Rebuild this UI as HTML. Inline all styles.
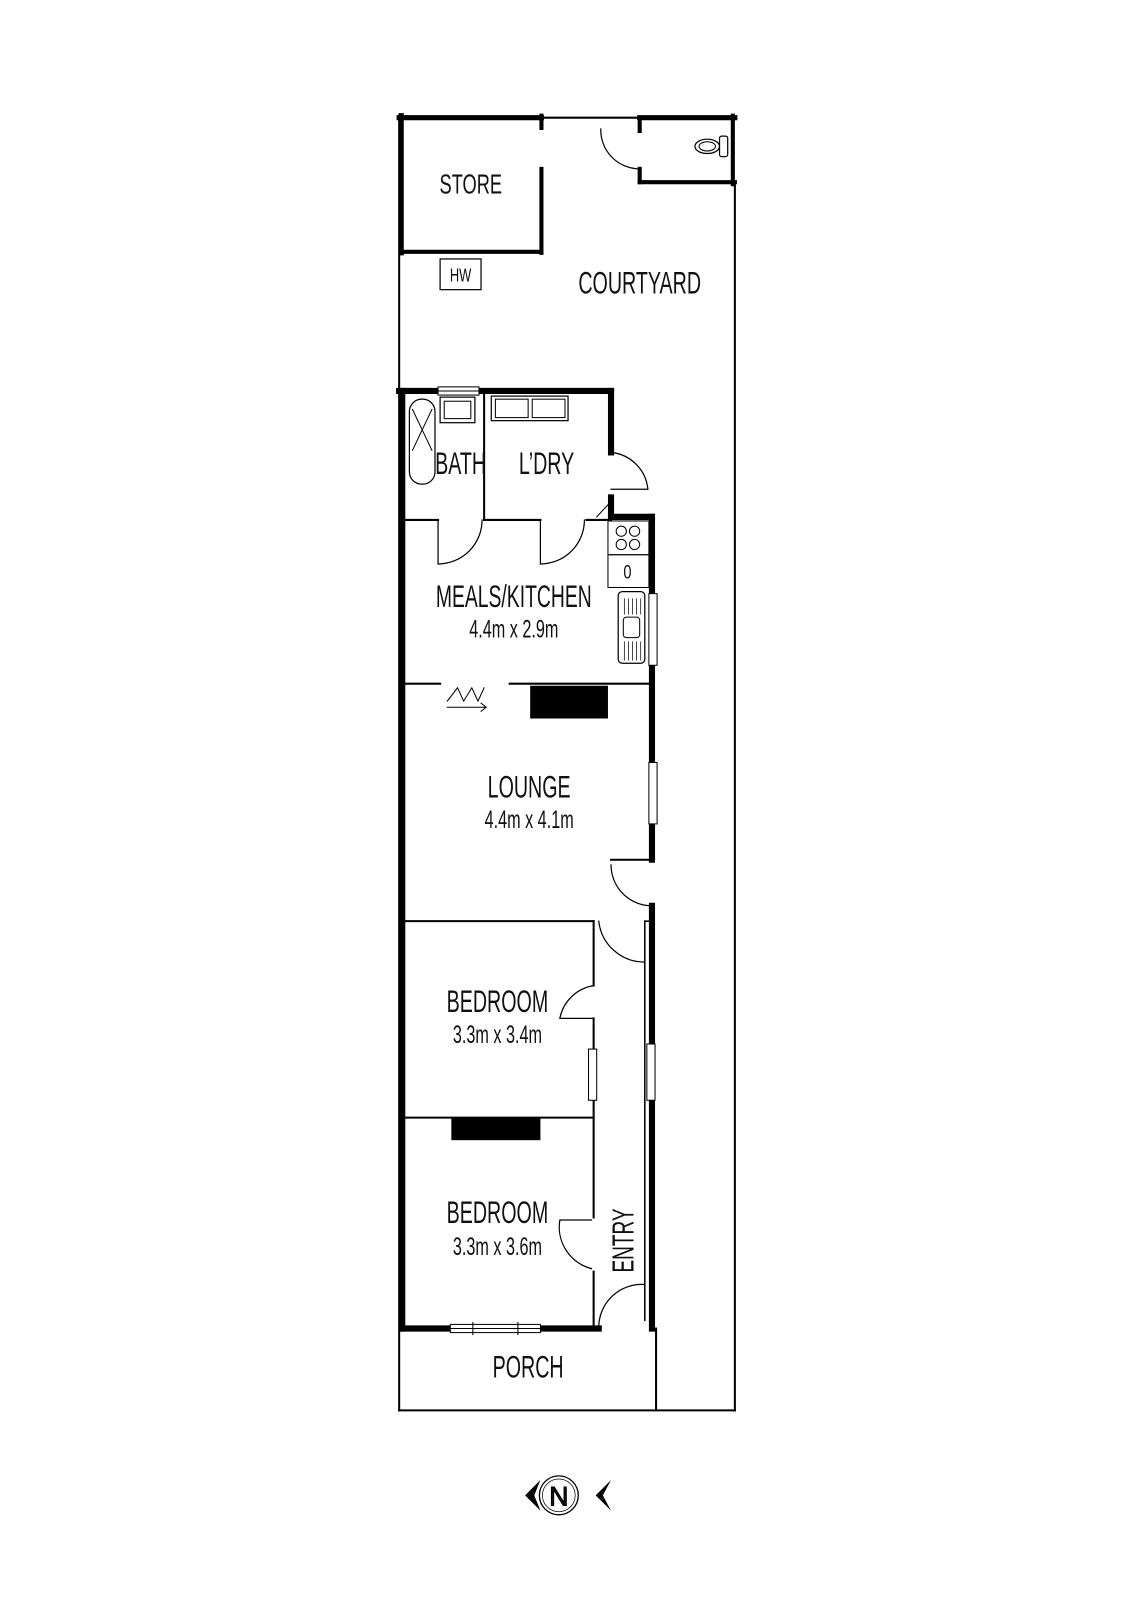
<!DOCTYPE html>
<html><head><meta charset="utf-8"><style>
html,body{margin:0;padding:0;background:#fff;width:1131px;height:1600px;overflow:hidden}
text{font-family:"Liberation Sans Narrow","Liberation Sans",sans-serif;fill:#111}
</style></head><body>
<svg width="1131" height="1600" viewBox="0 0 1131 1600" xmlns="http://www.w3.org/2000/svg">
<g transform="scale(1.0235)">
<g fill="none" stroke="#000" stroke-linecap="square">
<line x1="390" y1="113" x2="390" y2="1378" stroke-width="2"/>
<line x1="718" y1="178" x2="718" y2="1378" stroke-width="2"/>
<line x1="390" y1="1378" x2="718" y2="1378" stroke-width="2"/>
<line x1="390" y1="115" x2="529" y2="115" stroke-width="5"/>
<line x1="529" y1="115" x2="625" y2="115" stroke-width="2"/>
<line x1="625" y1="115" x2="718" y2="115" stroke-width="5"/>
<line x1="392" y1="113" x2="392" y2="247" stroke-width="5"/>
<line x1="529" y1="113" x2="529" y2="125" stroke-width="4"/>
<line x1="529" y1="165" x2="529" y2="247" stroke-width="4"/>
<line x1="392" y1="246" x2="529" y2="246" stroke-width="4"/>
<line x1="625" y1="115" x2="625" y2="128" stroke-width="4"/>
<line x1="625" y1="165" x2="625" y2="178" stroke-width="4"/>
<line x1="625" y1="178" x2="718" y2="178" stroke-width="4"/>
<line x1="716" y1="113" x2="716" y2="180" stroke-width="4"/>
<path d="M587 126 A38 38 0 0 0 625 165" stroke-width="1.2"/>
<rect x="703" y="133" width="8" height="20" rx="2" stroke-width="1.2"/>
<ellipse cx="691" cy="143" rx="12" ry="7" stroke-width="1.2"/>
<ellipse cx="691" cy="143" rx="8" ry="4.5" stroke-width="1"/>
<rect x="430" y="253" width="40" height="30" stroke-width="1.2"/>
<line x1="393" y1="382" x2="393" y2="1298" stroke-width="6"/>
<line x1="390" y1="382" x2="597" y2="382" stroke-width="6"/>
<line x1="597" y1="382" x2="597" y2="442" stroke-width="6"/>
<line x1="597" y1="486" x2="597" y2="505" stroke-width="6"/>
<line x1="597" y1="505" x2="637" y2="505" stroke-width="6"/>
<line x1="637" y1="505" x2="637" y2="840" stroke-width="6"/>
<line x1="597" y1="840" x2="637" y2="840" stroke-width="2"/>
<path d="M597 442 A40 40 0 0 1 633 478 L597 478" stroke-width="1.2"/>
<path d="M583 505 L597 490" stroke-width="1"/>
<rect x="428" y="378" width="40" height="8" fill="#fff" stroke-width="1"/>
<line x1="428" y1="382" x2="468" y2="382" stroke-width="1"/>
<line x1="473" y1="382" x2="473" y2="508" stroke-width="2"/>
<rect x="400" y="390" width="25" height="83" rx="12" stroke-width="1.2"/>
<path d="M403 400 L422 440 M422 400 L403 440" stroke-width="1"/>
<rect x="430" y="388" width="34" height="25" stroke-width="1.2"/>
<rect x="434" y="392" width="26" height="17" stroke-width="1"/>
<rect x="480" y="387" width="75" height="24" stroke-width="1.2"/>
<rect x="484" y="390" width="32" height="18" stroke-width="1"/>
<rect x="520" y="390" width="32" height="18" stroke-width="1"/>
<line x1="393" y1="508" x2="428" y2="508" stroke-width="2"/>
<line x1="473" y1="508" x2="528" y2="508" stroke-width="2"/>
<line x1="573" y1="508" x2="597" y2="508" stroke-width="2"/>
<path d="M428 508 L428 551 A43 43 0 0 0 471 508" stroke-width="1.2"/>
<path d="M528 508 L528 551 A43 43 0 0 0 571 508" stroke-width="1.2"/>
<rect x="594" y="509" width="40" height="33" stroke-width="1"/>
<circle cx="607" cy="519" r="5" stroke-width="1"/><circle cx="620" cy="519" r="5" stroke-width="1"/>
<circle cx="607" cy="532" r="5" stroke-width="1"/><circle cx="620" cy="532" r="5" stroke-width="1"/>
<rect x="594" y="542" width="40" height="32" stroke-width="1"/>
<rect x="604" y="578" width="26" height="70" rx="4" stroke-width="1.2"/>
<rect x="609" y="603" width="16" height="20" rx="3" stroke-width="1"/>
<path d="M610 585 V600 M614 585 V600 M618 585 V600 M622 585 V600 M626 585 V600 M610 627 V645 M614 627 V645 M618 627 V645 M622 627 V645 M626 627 V645" stroke-width="0.7"/>
<rect x="634" y="580" width="8" height="70" fill="#fff" stroke-width="1"/>
<rect x="634" y="745" width="8" height="60" fill="#fff" stroke-width="1"/>
<line x1="393" y1="668" x2="430" y2="668" stroke-width="2"/>
<line x1="498" y1="668" x2="637" y2="668" stroke-width="2"/>
<path d="M437 685 L447 672 L453 685 L461 672 L467 685 L473 672" stroke-width="1"/>
<path d="M437 691 L475 691 M470 687 L475 691 L470 695" stroke-width="1"/>
<rect x="518" y="670" width="76" height="32" fill="#000" stroke="none"/>
<path d="M597 845 A40 40 0 0 0 637 885" stroke-width="1.2"/>
<line x1="637" y1="885" x2="637" y2="1298" stroke-width="6"/>
<line x1="630" y1="900" x2="630" y2="1290" stroke-width="1.5"/>
<line x1="630" y1="900" x2="637" y2="900" stroke-width="1.5"/>
<rect x="632" y="1020" width="8" height="55" fill="#fff" stroke-width="1"/>
<line x1="393" y1="900" x2="580" y2="900" stroke-width="2"/>
<path d="M585 900 A45 45 0 0 0 630 940" stroke-width="1.2"/>
<line x1="580" y1="900" x2="580" y2="963" stroke-width="2"/>
<path d="M580 963 A40 40 0 0 0 547 995 L580 995" stroke-width="1.2"/>
<line x1="580" y1="995" x2="580" y2="1298" stroke-width="2"/>
<rect x="575" y="1025" width="8" height="50" fill="#fff" stroke-width="1"/>
<line x1="393" y1="1092" x2="580" y2="1092" stroke-width="2"/>
<rect x="441" y="1092" width="87" height="22" fill="#000" stroke="none"/>
<path d="M580 1240 A42 42 0 0 1 547 1192 L580 1192" stroke-width="1.2" fill="#fff"/>
<line x1="580" y1="1192" x2="580" y2="1240" stroke="#fff" stroke-width="3"/>
<path d="M585 1298 A42 42 0 0 1 630 1255" stroke-width="1.2"/>
<line x1="393" y1="1298" x2="585" y2="1298" stroke-width="6"/>
<rect x="440" y="1294" width="88" height="8" fill="#fff" stroke-width="1"/>
<path d="M440 1298 H528 M462 1292 V1304 M506 1292 V1304" stroke-width="1"/>
<line x1="641" y1="1298" x2="641" y2="1378" stroke-width="2"/>
<circle cx="546" cy="1461" r="19" stroke-width="1.3"/>
<circle cx="546" cy="1461" r="16" stroke-width="0.7"/>
</g>
<path d="M528 1446 L513 1461 L528 1476 L522 1461 Z" fill="#000"/>
<path d="M597 1446 L582 1461 L597 1476 L589 1461 Z" fill="#000"/>
<text x="546" y="1471" font-size="26" text-anchor="middle" fill="#fff" stroke="#000" stroke-width="1">N</text>
<g text-anchor="middle">
<text x="460" y="189" font-size="27" transform="translate(460 0) scale(0.66 1) translate(-460 0)">STORE</text>
<text x="450" y="275" font-size="18" transform="translate(450 0) scale(0.7 1) translate(-450 0)">HW</text>
<text x="625" y="287" font-size="31" transform="translate(625 0) scale(0.62 1) translate(-625 0)">COURTYARD</text>
<text x="450" y="463" font-size="31" transform="translate(450 0) scale(0.62 1) translate(-450 0)">BATH</text>
<text x="534" y="463" font-size="31" transform="translate(534 0) scale(0.62 1) translate(-534 0)">L’DRY</text>
<text x="502" y="593" font-size="31" transform="translate(502 0) scale(0.61 1) translate(-502 0)">MEALS/KITCHEN</text>
<text x="502" y="623" font-size="24" transform="translate(502 0) scale(0.66 1) translate(-502 0)">4.4m x 2.9m</text>
<text x="517" y="779" font-size="31" transform="translate(517 0) scale(0.62 1) translate(-517 0)">LOUNGE</text>
<text x="517" y="809" font-size="24" transform="translate(517 0) scale(0.66 1) translate(-517 0)">4.4m x 4.1m</text>
<text x="486" y="989" font-size="31" transform="translate(486 0) scale(0.62 1) translate(-486 0)">BEDROOM</text>
<text x="486" y="1019" font-size="24" transform="translate(486 0) scale(0.66 1) translate(-486 0)">3.3m x 3.4m</text>
<text x="486" y="1195" font-size="31" transform="translate(486 0) scale(0.62 1) translate(-486 0)">BEDROOM</text>
<text x="486" y="1226" font-size="24" transform="translate(486 0) scale(0.66 1) translate(-486 0)">3.3m x 3.6m</text>
<text x="516" y="1346" font-size="31" transform="translate(516 0) scale(0.62 1) translate(-516 0)">PORCH</text>
<text x="613" y="565" font-size="19" transform="translate(613 0) scale(0.75 1) translate(-613 0)">0</text>
<text transform="translate(619 1212) rotate(-90) scale(0.62 1)" font-size="30">ENTRY</text>
</g>
</g>
</svg>
</body></html>
